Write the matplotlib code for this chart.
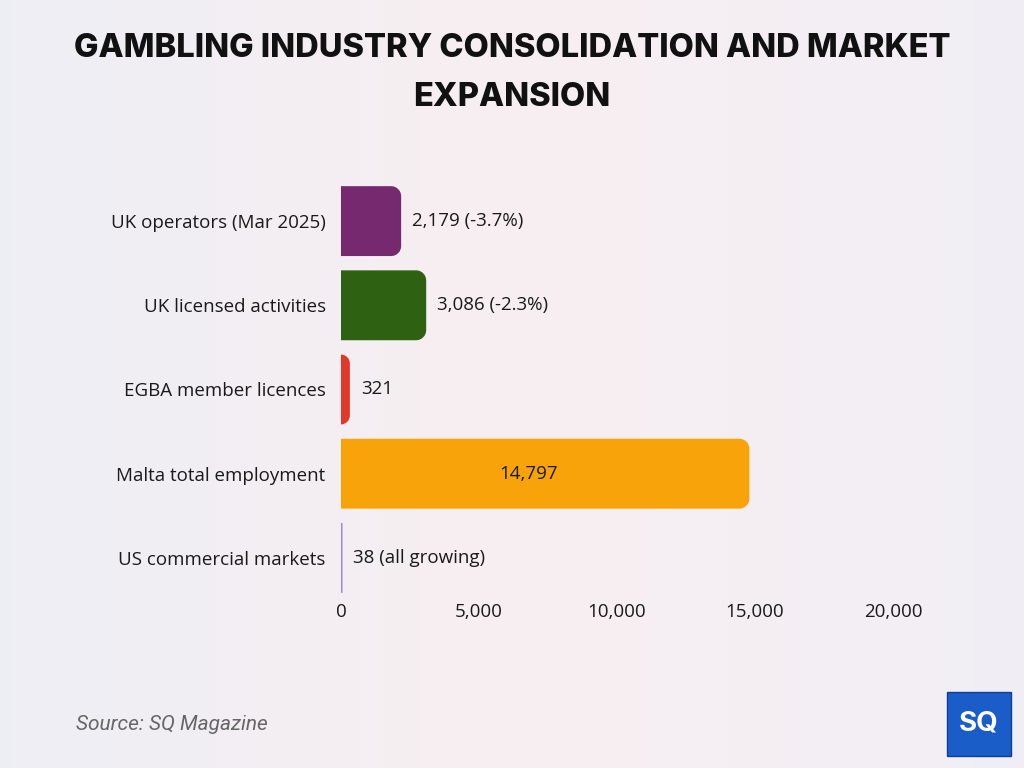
import numpy as np
import matplotlib
matplotlib.use("Agg")
import matplotlib.pyplot as plt
from matplotlib.path import Path
from matplotlib.patches import PathPatch, FancyBboxPatch
from matplotlib.transforms import IdentityTransform

categories = ["UK operators (Mar 2025)", "UK licensed activities", "EGBA member licences",
              "Malta total employment", "US commercial markets"]
values = [2179, 3086, 321, 14797, 38]
value_labels = ["2,179 (-3.7%)", "3,086 (-2.3%)", "321", "14,797", "38 (all growing)"]
colors = ["#76296f", "#2f6113", "#e0382b", "#f9a30a", "#9a8cc8"]
xticks = [0, 5000, 10000, 15000, 20000]
xtick_labels = ["0", "5,000", "10,000", "15,000", "20,000"]
title = "GAMBLING INDUSTRY CONSOLIDATION AND MARKET\nEXPANSION"
source = "Source: SQ Magazine"

FONT = "Open Sans"
FS = 13.5
TXT = "#1a1a1a"

W, H, DPI = 1024, 768, 100
fig = plt.figure(figsize=(W / DPI, H / DPI), dpi=DPI)

# background gradient
bg = fig.add_axes([0, 0, 1, 1], zorder=-10)
xx = np.linspace(0, 1, 64)
yy = np.linspace(0, 1, 64)
X, Y = np.meshgrid(xx, yy)
c_left = np.array([0.933, 0.937, 0.960])
c_mid = np.array([0.972, 0.937, 0.945])
c_right = np.array([0.945, 0.933, 0.960])
t = X[..., None]
img = np.where(t < 0.5, c_left + (c_mid - c_left) * (t / 0.5), c_mid + (c_right - c_mid) * ((t - 0.5) / 0.5))
bg.imshow(np.clip(img, 0, 1), aspect="auto", extent=[0, 1, 0, 1], origin="lower", interpolation="bilinear")
bg.axis("off")

ax = fig.add_axes([341 / W, 1 - 600 / H, (893 - 341) / W, (600 - 179) / H])
ax.patch.set_alpha(0)
y = np.arange(len(categories))
bars = ax.barh(y, values, height=0.83, color=colors)
ax.set_xlim(0, 20000)
ax.set_ylim(len(categories) - 0.5, -0.5)
ax.set_xticks(xticks)
ax.set_xticklabels(xtick_labels, fontsize=FS, family=FONT, color=TXT)
ax.set_yticks(y)
ax.set_yticklabels(categories, fontsize=FS, family=FONT, color=TXT)
ax.tick_params(length=0, axis="x", pad=2)
ax.tick_params(length=0, axis="y", pad=11)
for s in ax.spines.values():
    s.set_visible(False)

fig.canvas.draw()
# rounded right corners
for b, c in zip(bars, colors):
    bb = b.get_window_extent()
    b.set_visible(False)
    x0, y0, x1, y1 = bb.x0, bb.y0, bb.x1, bb.y1
    w = x1 - x0
    r = min(10, w, (y1 - y0) / 2)
    if w < 1.5:
        x1 = x0 + 1.5
        r = 0
    k = 0.5523
    verts = [(x0, y0), (x1 - r, y0),
             (x1 - r + r * k, y0), (x1, y0 + r - r * k), (x1, y0 + r),
             (x1, y1 - r),
             (x1, y1 - r + r * k), (x1 - r + r * k, y1), (x1 - r, y1),
             (x0, y1), (x0, y0)]
    codes = [Path.MOVETO, Path.LINETO,
             Path.CURVE4, Path.CURVE4, Path.CURVE4,
             Path.LINETO,
             Path.CURVE4, Path.CURVE4, Path.CURVE4,
             Path.LINETO, Path.CLOSEPOLY]
    p = PathPatch(Path(verts, codes), facecolor=c, edgecolor="none", transform=IdentityTransform(),
                  zorder=1, clip_on=False)
    ax.add_artist(p)

for i, (v, lab) in enumerate(zip(values, value_labels)):
    if v > 10000:
        ax.text(v * 0.46, i, lab, ha="center", va="center", fontsize=FS, family=FONT,
                color=TXT, zorder=5)
    else:
        ax.text(v + 400, i, lab, ha="left", va="center", fontsize=FS, family=FONT,
                color=TXT, zorder=5)

fig.text(0.5, 1 - 73 / H, title, ha="center", va="center", fontsize=23.5, fontweight="heavy",
         family="Inter", color="#111111", linespacing=1.75)
fig.text(76 / W, 1 - 724 / H, source, ha="left", va="center", fontsize=15, style="italic",
         family="Roboto", color="#666666")

# logo
logo = FancyBboxPatch((947 / W, 1 - 756 / H), 64 / W, 64 / H, boxstyle="square,pad=0",
                      transform=fig.transFigure, facecolor="#1a5cc8", edgecolor="#0d3f99", lw=1)
fig.add_artist(logo)
fig.text(979 / W, 1 - 724 / H, "SQ", ha="center", va="center", fontsize=20, fontweight="bold",
         family="Inter", color="white")

fig.savefig("out.png", dpi=DPI)
